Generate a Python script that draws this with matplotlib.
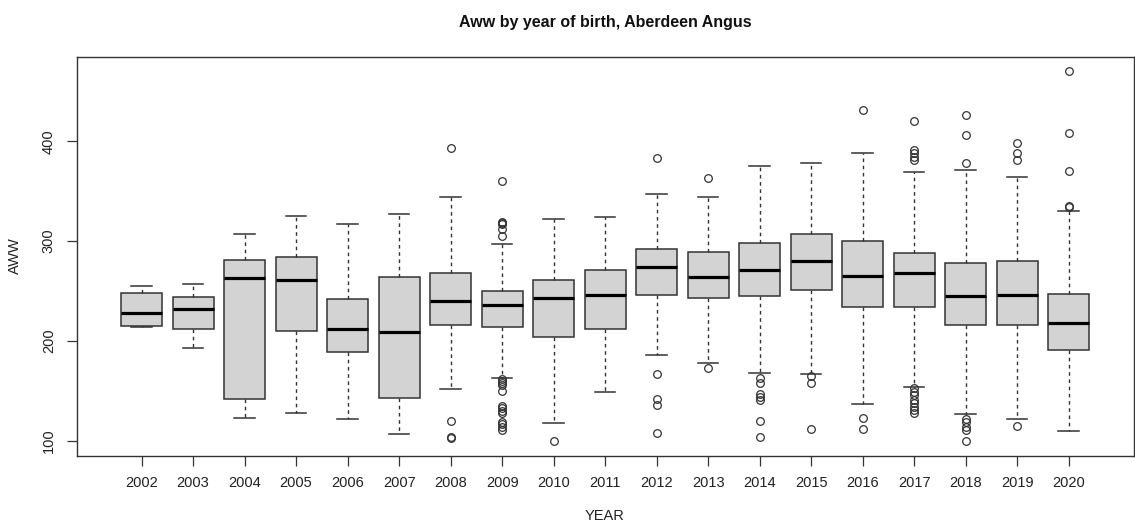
import numpy as np
import matplotlib
matplotlib.use("Agg")
import matplotlib.pyplot as plt

plt.rcParams['font.family'] = ['Liberation Sans', 'DejaVu Sans']

# AWW box plot summary by year of birth
years = ['2002', '2003', '2004', '2005', '2006', '2007', '2008', '2009', '2010', '2011',
         '2012', '2013', '2014', '2015', '2016', '2017', '2018', '2019', '2020']
whislo = [214, 193, 123, 128, 122, 107, 152, 163, 118, 149, 186, 178, 168, 167, 137, 154, 127, 122, 110]
q1 = [215, 212, 142, 210, 189, 143, 216, 214, 204, 212, 246, 243, 245, 251, 234, 234, 216, 216, 191]
med = [228, 232, 263, 261, 212, 209, 240, 236, 243, 246, 274, 264, 271, 280, 265, 268, 245, 246, 218]
q3 = [248, 244, 281, 284, 242, 264, 268, 250, 261, 271, 292, 289, 298, 307, 300, 288, 278, 280, 247]
whishi = [255, 257, 307, 325, 317, 327, 344, 297, 322, 324, 347, 344, 375, 378, 388, 369, 371, 364, 330]
fliers = [
    [],
    [],
    [],
    [],
    [],
    [],
    [393, 120, 104, 103],
    [360, 319, 318, 317, 312, 305, 162, 160, 158, 156, 150, 135, 133, 130, 128, 119, 117, 114, 111],
    [100],
    [],
    [383, 167, 142, 136, 108],
    [363, 173],
    [163, 158, 147, 144, 141, 120, 104],
    [165, 158, 112],
    [431, 123, 112],
    [420, 391, 388, 384, 381, 153, 149, 146, 141, 138, 134, 131, 128],
    [426, 406, 378, 122, 119, 114, 111, 100],
    [398, 388, 381, 115],
    [470, 408, 370, 335, 334],
]

stats = []
for i in range(len(years)):
    stats.append(dict(label=years[i], whislo=whislo[i], q1=q1[i], med=med[i],
                      q3=q3[i], whishi=whishi[i], fliers=fliers[i]))

fig = plt.figure(figsize=(11.35, 5.24), dpi=100)
ax = fig.add_axes([76.7 / 1135, 1 - 455.5 / 524, (1133.6 - 76.7) / 1135, (455.5 - 56.7) / 524])

lc = '#333333'
ax.bxp(stats, positions=np.arange(1, len(years) + 1), widths=0.8, patch_artist=True,
       boxprops=dict(facecolor='#d3d3d3', edgecolor=lc, linewidth=1.1),
       medianprops=dict(color='black', linewidth=2.3, solid_capstyle='butt'),
       whiskerprops=dict(color=lc, linewidth=1.0, linestyle=(0, (2.6, 2.6))),
       capprops=dict(color=lc, linewidth=1.1),
       capwidths=0.4,
       flierprops=dict(marker='o', markerfacecolor='none', markeredgecolor=lc,
                       markersize=5.5, markeredgewidth=0.9, linestyle='none'))

ax.set_xlim(-0.26, 20.26)
ax.set_ylim(85.2, 484.8)
ax.set_yticks([100, 200, 300, 400])
ax.set_yticklabels(['100', '200', '300', '400'], rotation=90, va='center')
ax.tick_params(axis='both', direction='out', length=7, width=0.9, color=lc,
               labelsize=10.5, labelcolor='#222222', pad=8)
for s in ax.spines.values():
    s.set_color(lc)
    s.set_linewidth(1.0)

fig.text(605 / 1135, 1 - 22 / 524, 'Aww by year of birth, Aberdeen Angus',
         ha='center', va='center', fontsize=11.5, fontweight='bold', color='#111111')
fig.text(605 / 1135, 1 - 516 / 524, 'YEAR', ha='center', va='center',
         fontsize=10.5, color='#222222')
fig.text(14.7 / 1135, 1 - 256 / 524, 'AWW', ha='center', va='center', rotation=90,
         fontsize=10.5, color='#222222')

fig.savefig('out.png', dpi=100)
